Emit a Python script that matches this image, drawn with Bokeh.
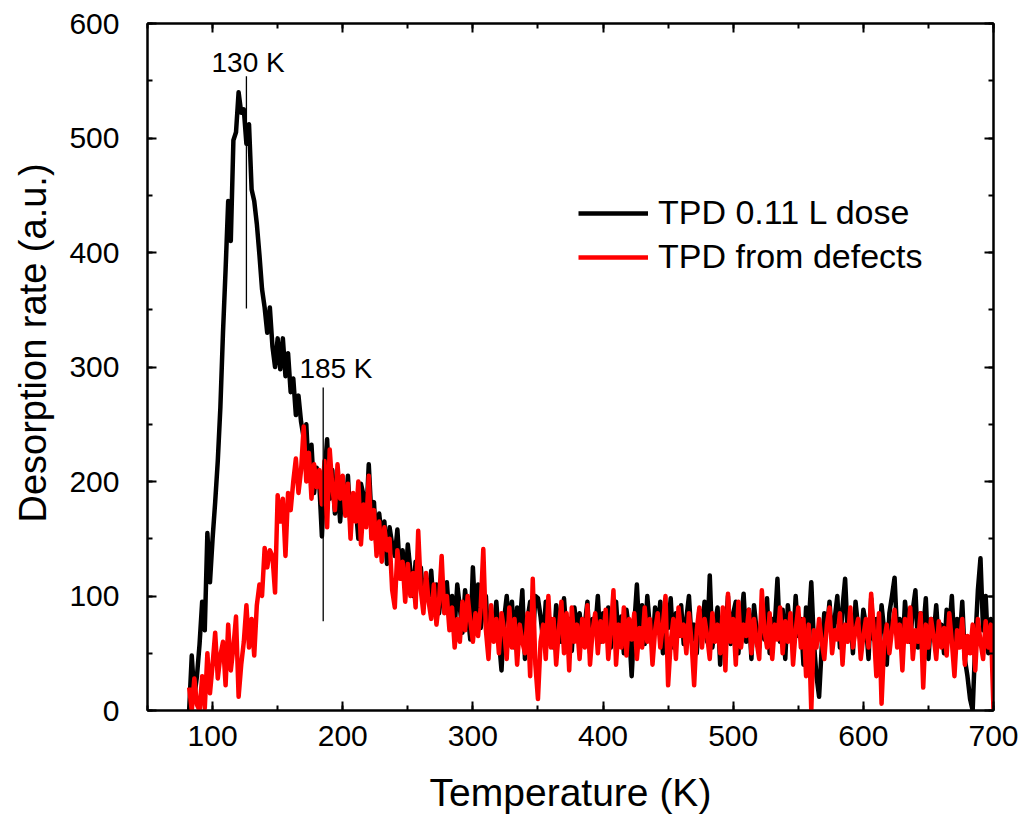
from bokeh.plotting import figure
from bokeh.models import Range1d, LinearAxis, SingleIntervalTicker, Legend, LegendItem, Label, ColumnDataSource, Title
from bokeh.embed import file_html
from bokeh.resources import INLINE

temps = [
    82, 84, 86, 88, 90, 92, 94, 96, 98, 100,
    102, 104, 106, 108, 110, 112, 114, 116, 118, 120,
    122, 124, 126, 128, 130, 132, 134, 136, 138, 140,
    142, 144, 146, 148, 150, 152, 154, 156, 158, 160,
    162, 164, 166, 168, 170, 172, 174, 176, 178, 180,
    182, 184, 186, 188, 190, 192, 194, 196, 198, 200,
    202, 204, 206, 208, 210, 212, 214, 216, 218, 220,
    222, 224, 226, 228, 230, 232, 234, 236, 238, 240,
    242, 244, 246, 248, 250, 252, 254, 256, 258, 260,
    262, 264, 266, 268, 270, 272, 274, 276, 278, 280,
    282, 284, 286, 288, 290, 292, 294, 296, 298, 300,
    302, 304, 306, 308, 310, 312, 314, 316, 318, 320,
    322, 324, 326, 328, 330, 332, 334, 336, 338, 340,
    342, 344, 346, 348, 350, 352, 354, 356, 358, 360,
    362, 364, 366, 368, 370, 372, 374, 376, 378, 380,
    382, 384, 386, 388, 390, 392, 394, 396, 398, 400,
    402, 404, 406, 408, 410, 412, 414, 416, 418, 420,
    422, 424, 426, 428, 430, 432, 434, 436, 438, 440,
    442, 444, 446, 448, 450, 452, 454, 456, 458, 460,
    462, 464, 466, 468, 470, 472, 474, 476, 478, 480,
    482, 484, 486, 488, 490, 492, 494, 496, 498, 500,
    502, 504, 506, 508, 510, 512, 514, 516, 518, 520,
    522, 524, 526, 528, 530, 532, 534, 536, 538, 540,
    542, 544, 546, 548, 550, 552, 554, 556, 558, 560,
    562, 564, 566, 568, 570, 572, 574, 576, 578, 580,
    582, 584, 586, 588, 590, 592, 594, 596, 598, 600,
    602, 604, 606, 608, 610, 612, 614, 616, 618, 620,
    622, 624, 626, 628, 630, 632, 634, 636, 638, 640,
    642, 644, 646, 648, 650, 652, 654, 656, 658, 660,
    662, 664, 666, 668, 670, 672, 674, 676, 678, 680,
    682, 684, 686, 688, 690, 692, 694, 696, 698, 700,
]

tpd_dose = [
    0, 48, 12, 30, 58, 95, 70, 155, 112, 150,
    182, 218, 265, 330, 385, 445, 410, 498, 505, 540,
    522, 525, 495, 512, 455, 445, 425, 398, 368, 352,
    330, 352, 318, 300, 325, 298, 325, 292, 312, 278,
    290, 258, 275, 252, 238, 250, 205, 232, 190, 212,
    198, 152, 205, 237, 185, 210, 172, 200, 165, 195,
    175, 205, 160, 188, 178, 150, 198, 188, 165, 215,
    170, 182, 140, 172, 152, 165, 128, 160, 145, 135,
    158, 120, 140, 108, 145, 122, 100, 130, 112, 125,
    95, 115, 100, 122, 88, 110, 85, 105, 92, 112,
    80, 100, 72, 110, 90, 68, 105, 85, 62, 125,
    80, 110, 72, 90, 100, 58, 85, 70, 95, 62,
    35, 80, 100, 70, 95, 55, 90, 75, 105, 45,
    80, 95, 60, 100, 98, 82, 60, 95, 70, 80,
    55, 92, 75, 60, 98, 65, 80, 52, 90, 70,
    85, 60, 75, 95, 50, 80, 70, 100, 60, 85,
    62, 90, 55, 78, 95, 60, 82, 50, 88, 70,
    30, 75, 110, 65, 92, 58, 100, 72, 55, 90,
    68, 95, 50, 80, 72, 98, 55, 85, 65, 92,
    58, 80, 100, 62, 75, 50, 88, 70, 95, 60,
    118, 55, 75, 90, 40, 82, 65, 100, 58, 85,
    95, 50, 78, 102, 60, 88, 45, 92, 70, 55,
    85, 62, 98, 50, 80, 75, 115, 60, 88, 45,
    92, 70, 58, 100, 65, 80, 40, 90, 75, 112,
    60, 30, 12, 55, 85, 70, 95, 62, 80, 100,
    55, 90, 115, 65, 82, 50, 95, 72, 60, 88,
    75, 45, 98, 62, 80, 55, 92, 70, 40, 85,
    100, 116, 65, 80, 50, 95, 72, 60, 88, 105,
    55, 85, 70, 98, 45, 80, 65, 92, 58, 75,
    50, 88, 70, 100, 55, 80, 62, 95, 45, 30,
    10, 0, 60, 105, 133, 70, 100, 50, 80, 65,
]

tpd_defects = [
    20, 0, 28, 5, 0, 30, 2, 50, 15, 40,
    68, 28, 48, 60, 22, 75, 35, 55, 82, 12,
    40, 60, 92, 55, 80, 48, 92, 110, 100, 142,
    125, 140, 135, 103, 188, 165, 185, 135, 190, 175,
    200, 220, 190, 210, 248, 200, 225, 185, 215, 195,
    210, 180, 218, 160, 228, 195, 175, 215, 185, 205,
    170, 198, 150, 190, 165, 200, 145, 180, 160, 205,
    150, 175, 135, 165, 130, 160, 140, 150, 105, 90,
    140, 115, 130, 95, 128, 100, 120, 90, 157, 105,
    85, 120, 95, 80, 110, 75, 95, 135, 85, 100,
    70, 90, 55, 80, 60, 95, 70, 100, 78, 60,
    85, 65, 90, 141, 70, 45, 92, 60, 80, 50,
    85, 70, 45, 90, 55, 80, 40, 75, 60, 50,
    85, 30, 115, 40, 10, 60, 75, 45, 100, 55,
    80, 40, 70, 95, 50, 85, 35, 90, 60, 75,
    45, 80, 55, 92, 40, 70, 85, 50, 78, 60,
    88, 45, 70, 105, 40, 75, 55, 90, 48, 80,
    62, 85, 45, 72, 55, 90, 60, 80, 40, 70,
    85, 55, 75, 100, 22, 60, 80, 45, 90, 65,
    75, 50, 85, 60, 22, 70, 90, 55, 80, 65,
    45, 85, 60, 75, 50, 90, 35, 102, 60, 80,
    40, 95, 55, 75, 65, 88, 50, 80, 60, 45,
    105, 70, 55, 85, 45, 75, 62, 90, 50, 78,
    60, 85, 40, 70, 90, 55, 80, 30, 75, 0,
    70, 55, 80, 60, 45, 75, 90, 50, 70, 62,
    85, 40, 75, 60, 90, 55, 70, 80, 45, 65,
    80, 55, 102, 70, 30, 85, 6, 60, 75, 50,
    70, 88, 55, 75, 35, 80, 60, 90, 45, 70,
    60, 85, 20, 75, 55, 80, 65, 45, 78, 55,
    72, 48, 85, 60, 30, 70, 55, 80, 40, 65,
    50, 75, 35, 80, 60, 45, 78, 55, 75, 0,
]

# peak marker annotations
marker_T = [126, 185]
marker_low = [351, 78]
marker_high = [554, 282]
marker_text = ["130 K", "185 K"]
marker_text_T = [127.3, 194.8]
marker_text_y = [566, 299]

FONT = "Liberation Sans"

p = figure(width=1025, height=819, output_backend="svg", toolbar_location=None,
           x_range=Range1d(50, 700), y_range=Range1d(0, 600),
           min_border_left=147, min_border_right=32, min_border_top=23, min_border_bottom=109)
p.background_fill_color = "white"
p.border_fill_color = "white"
p.outline_line_color = "black"
p.outline_line_width = 2
p.grid.visible = False

src = ColumnDataSource(dict(t=temps, dose=tpd_dose, defects=tpd_defects))
r_black = p.line("t", "dose", source=src, line_color="black", line_width=4.5, line_join="round")
r_red = p.line("t", "defects", source=src, line_color="#ff0000", line_width=4.5, line_join="round")

# markers
p.segment(x0=marker_T, y0=marker_low, x1=marker_T, y1=marker_high, line_color="black", line_width=1.3)
for t, yv, s in zip(marker_text_T, marker_text_y, marker_text):
    p.add_layout(Label(x=t, y=yv, text=s, text_font=FONT, text_font_size="28px",
                       text_align="center", text_baseline="middle", text_color="black"))

def style_axis(ax, show_labels=True):
    ax.axis_line_width = 2
    ax.axis_line_color = "black"
    ax.major_tick_in = 9
    ax.major_tick_out = 0
    ax.minor_tick_in = 5
    ax.minor_tick_out = 0
    ax.major_tick_line_width = 2
    ax.minor_tick_line_width = 2
    ax.major_tick_line_color = "black"
    ax.minor_tick_line_color = "black"
    ax.major_label_text_font = FONT
    if show_labels:
        ax.major_label_text_font_size = "30px"
        ax.major_label_text_color = "black"
    else:
        ax.major_label_text_font_size = "0px"
        ax.major_label_text_color = None

p.xaxis.ticker = SingleIntervalTicker(interval=100, num_minor_ticks=2)
p.yaxis.ticker = SingleIntervalTicker(interval=100, num_minor_ticks=2)
style_axis(p.xaxis[0])
style_axis(p.yaxis[0])
p.xaxis.major_label_standoff = 15
p.yaxis.major_label_standoff = 28
p.xaxis.axis_label = "Temperature (K)"
p.xaxis.axis_label_text_font = FONT
p.xaxis.axis_label_text_font_size = "39px"
p.xaxis.axis_label_text_font_style = "normal"
p.xaxis.axis_label_standoff = 22
p.xaxis.axis_label_text_color = "black"

top = LinearAxis(ticker=SingleIntervalTicker(interval=100, num_minor_ticks=2))
style_axis(top, show_labels=False)
p.add_layout(top, "above")
right = LinearAxis(ticker=SingleIntervalTicker(interval=100, num_minor_ticks=2))
style_axis(right, show_labels=False)
p.add_layout(right, "right")

ytitle = Title(text="Desorption rate (a.u.)", align="left", offset=188, standoff=22,
               vertical_align="top",
               text_font=FONT, text_font_size="38px", text_font_style="normal", text_color="black")
p.add_layout(ytitle, "left")

legend = Legend(items=[LegendItem(label="TPD 0.11 L dose", renderers=[r_black]),
                       LegendItem(label="TPD from defects", renderers=[r_red])],
                location=(431, 434), padding=0, margin=0, spacing=5,
                glyph_width=70, glyph_height=36, label_height=36, label_standoff=10,
                label_text_font=FONT, label_text_font_size="34px", label_text_color="black",
                border_line_color=None, background_fill_alpha=0)
p.add_layout(legend)

open("out.html", "w").write(file_html(p, INLINE))
